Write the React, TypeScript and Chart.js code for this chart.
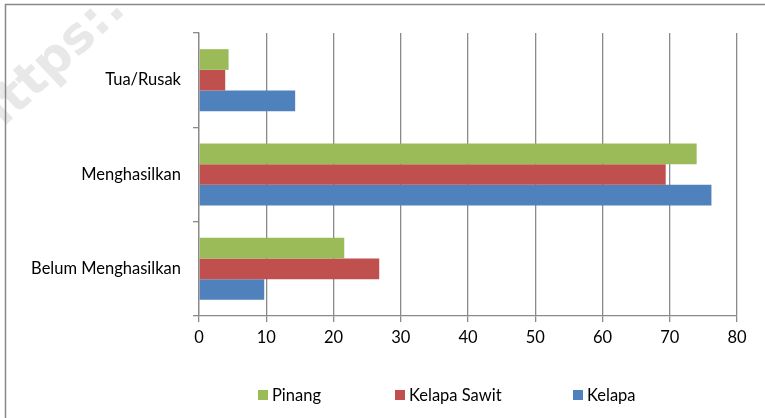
import React, { useEffect, useRef } from "react";
import { Chart, registerables } from "chart.js";

Chart.register(...registerables);

const categories = ["Tua/Rusak", "Menghasilkan", "Belum Menghasilkan"];
const seriesNames = ["Pinang", "Kelapa Sawit", "Kelapa"];
const pinang = [4.4, 74.0, 21.6];
const kelapaSawit = [3.9, 69.4, 26.8];
const kelapa = [14.3, 76.2, 9.7];
const seriesColors = ["#9BBB59", "#C0504D", "#4F81BD"];
const xMin = 0;
const xMax = 80;
const xStep = 10;

const W = 765;
const H = 418;
const FONT = "Lato, 'Open Sans', sans-serif";
const GRID = "#8a8a8a";

const decorPlugin = {
  id: "decor",
  beforeDraw(chart: any) {
    const ctx = chart.ctx;
    ctx.save();
    // watermark
    ctx.translate(-10, 140);
    ctx.rotate(-Math.PI * 0.24);
    ctx.fillStyle = "#e8e8e8";
    ctx.font = "bold 50px 'DejaVu Sans', sans-serif";
    ctx.textBaseline = "alphabetic";
    ctx.fillText("https:.", 0, 0);
    ctx.restore();
    // frame
    ctx.save();
    ctx.strokeStyle = "#888888";
    ctx.lineWidth = 1.5;
    ctx.beginPath();
    ctx.moveTo(5.5, H);
    ctx.lineTo(5.5, 4.5);
    ctx.lineTo(W, 4.5);
    ctx.stroke();
    ctx.restore();
  },
  afterDraw(chart: any) {
    const ctx = chart.ctx;
    const starts = [258, 395, 573];
    const y = 396;
    ctx.save();
    ctx.font = "16.5px " + FONT;
    ctx.textBaseline = "middle";
    chart.data.datasets.forEach((ds: any, i: number) => {
      const x = starts[i];
      ctx.fillStyle = ds.backgroundColor;
      ctx.fillRect(x, y - 6, 10, 10);
      ctx.fillStyle = "#000";
      ctx.fillText(ds.label, x + 14, y);
    });
    ctx.restore();
  },
};

export default function App() {
  const ref = useRef<HTMLCanvasElement | null>(null);
  useEffect(() => {
    if (!ref.current) return;
    const series = [pinang, kelapaSawit, kelapa];
    const chart = new Chart(ref.current, {
      type: "bar",
      data: {
        labels: categories,
        datasets: series.map((d, i) => ({
          label: seriesNames[i],
          data: d,
          backgroundColor: seriesColors[i],
          borderWidth: 0,
          categoryPercentage: 0.657,
          barPercentage: 1.0,
        })),
      },
      options: {
        indexAxis: "y",
        animation: false,
        responsive: true,
        maintainAspectRatio: false,
        layout: { padding: { left: 0, top: 33, right: 28, bottom: 62 } },
        plugins: {
          legend: { display: false },
          tooltip: { enabled: false },
          title: { display: false },
        },
        scales: {
          x: {
            min: xMin,
            max: xMax,
            ticks: {
              stepSize: xStep,
              color: "#000",
              font: { family: FONT, size: 16.5 },
              padding: 6,
            },
            grid: {
              color: GRID,
              lineWidth: 1.3,
              drawTicks: true,
              tickLength: 6,
              tickColor: GRID,
            },
            border: { display: true, color: GRID, width: 1.3 },
            afterFit: (s: any) => {
              s.height = 40;
            },
          },
          y: {
            ticks: {
              color: "#000",
              font: { family: FONT, size: 16.5 },
              padding: 12,
            },
            grid: {
              offset: true,
              drawOnChartArea: false,
              drawTicks: true,
              tickLength: 6,
              color: GRID,
              lineWidth: 1.3,
            },
            border: { display: true, color: GRID, width: 1.3 },
            afterFit: (s: any) => {
              s.width = 199;
            },
          },
        },
      },
      plugins: [decorPlugin],
    } as any);
    return () => chart.destroy();
  }, []);
  return (
    <div style={{ position: "fixed", left: 0, top: 0, width: W, height: H, background: "#fff" }}>
      <canvas ref={ref} />
    </div>
  );
}
